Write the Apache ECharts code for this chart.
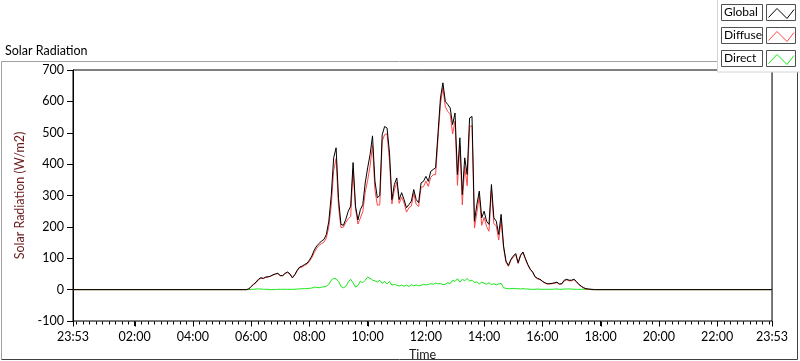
<!DOCTYPE html>
<html>
<head>
<meta charset="utf-8">
<script src="https://cdn.jsdelivr.net/npm/echarts@6/dist/echarts.min.js"></script>
<style>
  html, body { margin: 0; padding: 0; background: #fff; }
  #chart { width: 800px; height: 361px; }
</style>
</head>
<body>
<div id="chart"></div>
<script>
// readings every 5 minutes, first one at 05:45 (minutes of the day)
const firstReading = 345;
const readingStep = 5;
// the axis runs from 23:53 to 23:53 (minutes of the day, -7 .. 1433)
const dayStart = -7;
const dayEnd = 1433;
const labelMinutes = [-7, 120, 240, 360, 480, 600, 720, 840, 960, 1080, 1200, 1320, 1433];
const yTicks = [-100, 0, 100, 200, 300, 400, 500, 600, 700];

const globalVals = [
  0, 0, 2,
  10, 17, 24, 33, 38, 36, 40, 41, 43, 47, 50, 52,
  45, 45, 52, 56, 50, 38, 48, 62, 72, 75, 80, 84,
  94, 107, 126, 139, 147, 155, 160, 176, 218, 300, 420, 452,
  290, 208, 205, 224, 250, 266, 405, 266, 222, 255, 271, 340,
  388, 430, 490, 346, 293, 300, 494, 520, 515, 436, 287, 335,
  356, 287, 309, 287, 261, 271, 282, 319, 287, 277, 340, 345,
  361, 345, 377, 383, 388, 500, 611, 659, 600, 590, 579, 526,
  563, 367, 484, 303, 420, 367, 547, 552, 218, 271, 314, 229,
  250, 218, 208, 335, 229, 218, 176, 240, 139, 91, 77, 96,
  107, 115, 86, 110, 120, 99, 80, 65, 56, 41, 36, 33,
  27, 22, 19, 19, 20, 22, 24, 18, 19, 30, 33, 30,
  30, 33, 26, 17, 11, 6, 3, 2, 1, 0, 0, 0
];

const diffuseVals = [
  0, 0, 2,
  9, 16, 22, 31, 36, 35, 39, 40, 43, 47, 50, 51,
  44, 44, 51, 55, 49, 37, 47, 60, 70, 72, 77, 81,
  90, 102, 118, 132, 141, 147, 151, 165, 201, 268, 380, 418,
  263, 198, 199, 214, 226, 233, 383, 258, 209, 228, 249, 310,
  348, 394, 460, 318, 269, 270, 474, 494, 497, 410, 273, 318,
  342, 275, 295, 276, 247, 261, 266, 307, 272, 265, 326, 328,
  346, 329, 358, 366, 367, 482, 591, 643, 583, 568, 560, 496,
  537, 332, 460, 270, 392, 331, 520, 522, 196, 246, 296, 205,
  230, 201, 186, 319, 210, 203, 158, 220, 133, 87, 74, 93,
  103, 112, 83, 108, 117, 97, 78, 64, 55, 40, 34, 32,
  26, 21, 18, 18, 19, 20, 22, 17, 18, 28, 31, 28,
  28, 32, 25, 16, 10, 5, 2, 1, 0, 0, 0, 0
];

const directVals = [
  0, 0, 0,
  1, 1, 2, 2, 2, 1, 1, 1, 0, 0, 0, 1,
  1, 1, 1, 1, 1, 1, 1, 2, 2, 3, 3, 3,
  4, 5, 8, 7, 6, 8, 9, 11, 17, 30, 36, 34,
  27, 10, 6, 10, 24, 33, 22, 8, 13, 27, 22, 30,
  40, 36, 30, 28, 24, 30, 20, 26, 18, 26, 14, 17,
  14, 12, 14, 11, 14, 10, 16, 12, 15, 12, 14, 17,
  15, 16, 19, 17, 21, 18, 20, 16, 17, 22, 19, 30,
  26, 35, 24, 33, 28, 36, 27, 30, 22, 25, 18, 24,
  20, 17, 22, 16, 19, 15, 18, 20, 6, 4, 3, 3,
  4, 3, 3, 2, 3, 2, 2, 1, 1, 1, 2, 1,
  1, 1, 1, 1, 1, 2, 2, 1, 1, 2, 2, 2,
  2, 1, 1, 1, 1, 1, 1, 1, 1, 1, 0, 0
];

const seriesNames = ['Global', 'Diffuse', 'Direct'];
const seriesColors = ['#000000', '#ff4646', '#16e816'];

function toPairs(vals) {
  // night readings are zero
  const pts = [[dayStart, 0]];
  vals.forEach((v, i) => pts.push([firstReading + i * readingStep, v]));
  pts.push([dayEnd, 0]);
  return pts;
}

function clock(v) {
  const m = ((Math.round(v) % 1440) + 1440) % 1440;
  return String(Math.floor(m / 60)).padStart(2, '0') + ':' + String(m % 60).padStart(2, '0');
}

// small ticks every 2h/9
const minorTicks = [];
for (let i = 0; i * 40 / 3 < dayEnd - 2; i++) {
  if (i % 9 !== 0 || i === 0) minorTicks.push(i * 40 / 3);
}

const font = 'Lato';

function line(series, color) {
  return {
    name: series,
    type: 'line',
    showSymbol: false,
    symbol: 'none',
    animation: false,
    lineStyle: { width: 1, color: color },
    itemStyle: { color: color },
    data: null,
  };
}

const drawOrder = [2, 1, 0]; // direct under diffuse under global
const valueSets = [globalVals, diffuseVals, directVals];

// legend: name box + swatch box per row
const legendGraphics = [
  {
    type: 'rect', z: 100,
    shape: { x: 717.5, y: -1, width: 90, height: 73 },
    style: { fill: '#fff', stroke: '#d4d4d4', lineWidth: 1 },
  },
];
seriesNames.forEach((name, i) => {
  const top = 4.5 + i * 23;
  legendGraphics.push(
    {
      type: 'rect', z: 101,
      shape: { x: 721.5, y: top, width: 41, height: 16 },
      style: { fill: '#fff', stroke: '#505050', lineWidth: 1 },
    },
    {
      type: 'text', z: 102, left: 724, top: top + 2,
      style: { text: name, font: '12px "' + font + '"', fill: '#000' },
    },
    {
      type: 'rect', z: 101,
      shape: { x: 766.5, y: top, width: 29, height: 16 },
      style: { fill: '#fff', stroke: '#505050', lineWidth: 1 },
    },
    {
      type: 'polyline', z: 102,
      shape: { points: [[768.5, top + 13], [777, top + 4], [787, top + 14], [794, top + 5]] },
      style: { stroke: seriesColors[i], lineWidth: 1, fill: null },
    }
  );
});

const frameGraphics = [
  {
    type: 'text', left: 5, top: 44,
    style: { text: 'Solar Radiation', font: '12.5px "' + font + '"', fill: '#000' },
  },
  {
    type: 'polyline', z: 90,
    shape: { points: [[1.5, 359.5], [1.5, 61.5], [797.5, 61.5]] },
    style: { stroke: '#a0a0a0', lineWidth: 1, fill: null },
  },
  {
    type: 'polyline', z: 90,
    shape: { points: [[1.5, 359.5], [797.5, 359.5], [797.5, 61.5]] },
    style: { stroke: '#404040', lineWidth: 1, fill: null },
  },
  ...legendGraphics,
];

const chart = echarts.init(document.getElementById('chart'));

chart.setOption({
  backgroundColor: '#fff',
  animation: false,
  textStyle: { fontFamily: font },
  grid: {
    left: 73, right: 28, top: 70, bottom: 40,
    outerBoundsMode: 'none',
    containLabel: false,
    show: true, borderColor: '#000', borderWidth: 1, backgroundColor: '#fff',
  },
  xAxis: {
    type: 'value',
    min: dayStart,
    max: dayEnd,
    name: 'Time',
    nameLocation: 'middle',
    nameGap: 27,
    nameTextStyle: { color: '#1a1a1a', fontSize: 12.5, fontFamily: font },
    axisLine: { show: true, onZero: false, lineStyle: { color: '#707070' } },
    axisTick: { show: true, length: 5, lineStyle: { color: '#000' }, customValues: labelMinutes },
    axisLabel: {
      customValues: labelMinutes,
      formatter: clock,
      color: '#000', fontSize: 12.5, fontFamily: font, margin: 9,
      showMinLabel: true, showMaxLabel: true,
    },
    splitLine: { show: false },
  },
  yAxis: [
    {
      type: 'value',
      min: -100,
      max: 700,
      interval: 100,
      name: 'Solar Radiation (W/m2)',
      nameLocation: 'middle',
      nameGap: 40,
      nameTextStyle: { color: '#6a1a1a', fontSize: 12.5, fontFamily: font },
      axisLine: { show: true, onZero: false, lineStyle: { color: '#000' } },
      axisTick: { show: true, length: 6, lineStyle: { color: '#000' } },
      axisLabel: { color: '#000', fontSize: 12.5, fontFamily: font, margin: 9, customValues: yTicks },
      splitLine: { show: false },
    },
    {
      type: 'value',
      min: -100,
      max: 700,
      position: 'right',
      axisLine: { show: true, onZero: false, lineStyle: { color: '#707070' } },
      axisTick: { show: false },
      axisLabel: { show: false },
      splitLine: { show: false },
    },
  ],
  series: drawOrder.map(i => {
    const s = line(seriesNames[i], seriesColors[i]);
    s.data = toPairs(valueSets[i]);
    return s;
  }),
  graphic: frameGraphics,
});

// time axis ticks, placed with the axis' own scale, on their own layer
const axisPx = chart.convertToPixel({ xAxisIndex: 0, yAxisIndex: 0 }, [dayStart, -100]);
const axisY = Math.round(axisPx[1]) + 0.5;
function tickMark(v, len) {
  const px = chart.convertToPixel({ xAxisIndex: 0, yAxisIndex: 0 }, [v, -100]);
  const x = Math.round(px[0]) + 0.5;
  return {
    type: 'line', zlevel: 1, z: 200, silent: true,
    shape: { x1: x, y1: axisY, x2: x, y2: axisY + len },
    style: { stroke: '#000', lineWidth: 1 },
  };
}
chart.setOption({
  graphic: [
    ...frameGraphics,
    ...minorTicks.map(v => tickMark(v, 3)),
    ...labelMinutes.map(v => tickMark(v, 5)),
  ],
});
</script>
</body>
</html>
